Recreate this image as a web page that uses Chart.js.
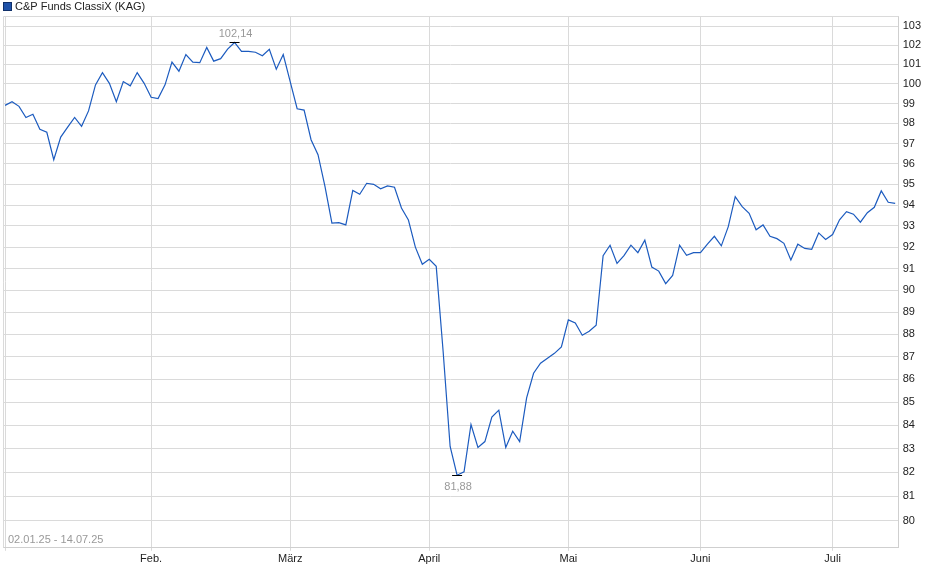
<!DOCTYPE html>
<html lang="de">
<head>
    <meta charset="UTF-8">
    <title>C&amp;P Funds ClassiX (KAG)</title>
    <script src="https://cdn.jsdelivr.net/npm/chart.js"></script>
    <style>
        body { margin: 0; background: #fff; }
        .box { width: 940px; height: 579px; position: relative; }
    </style>
</head>
<body>
<div class="box">
    <canvas id="kursChart"></canvas>
</div>

<script>
    const fondsName = 'C&P Funds ClassiX (KAG)';
    const zeitraum = '02.01.25 - 14.07.25';

    // Kurse je Handelstag (Index 0 = 02.01.25)
    const kurse = [
        98.91, 99.09, 98.86, 98.30, 98.46, 97.71, 97.56, 96.20, 97.32, 97.82,
        98.30, 97.86, 98.63, 99.95, 100.58, 100.03, 99.09, 100.12, 99.90, 100.58,
        100.03, 99.32, 99.25, 99.95, 101.12, 100.65, 101.51, 101.12, 101.09, 101.88,
        101.17, 101.30, 101.79, 102.14, 101.68, 101.68, 101.63, 101.45, 101.78, 100.75,
        101.51, 100.12, 98.74, 98.67, 97.19, 96.45, 94.90, 93.14, 93.16, 93.05,
        94.70, 94.52, 95.05, 95.00, 94.78, 94.92, 94.86, 93.86, 93.28, 92.00,
        91.20, 91.43, 91.10, 87.20, 83.09, 81.88, 82.02, 84.03, 83.05, 83.30,
        84.35, 84.65, 83.05, 83.74, 83.30, 85.18, 86.26, 86.70, 86.92, 87.14,
        87.43, 88.64, 88.50, 87.95, 88.13, 88.40, 91.60, 92.09, 91.24, 91.60,
        92.09, 91.74, 92.33, 91.07, 90.88, 90.30, 90.68, 92.09, 91.62, 91.74,
        91.74, 92.14, 92.51, 92.06, 92.97, 94.40, 93.92, 93.60, 92.82, 93.05,
        92.51, 92.40, 92.18, 91.40, 92.14, 91.94, 91.90, 92.67, 92.36, 92.59,
        93.29, 93.68, 93.56, 93.18, 93.63, 93.89, 94.68, 94.13, 94.08
    ];

    // Monatsanfang (Index des ersten Handelstags) und Beschriftung
    const monatsIndex = [0, 21, 41, 61, 81, 100, 119];
    const monatsNamen = ['', 'Feb.', 'März', 'April', 'Mai', 'Juni', 'Juli'];

    const yTicks = [80, 81, 82, 83, 84, 85, 86, 87, 88, 89, 90, 91,
        92, 93, 94, 95, 96, 97, 98, 99, 100, 101, 102, 103];

    const linienFarbe = '#1c5bbf';
    const gitterFarbe = '#dadada';

    Chart.defaults.font.family = 'Arial, "Liberation Sans", sans-serif';
    Chart.defaults.font.size = 11;
    Chart.defaults.color = '#222';

    const formatDe = v => v.toFixed(2).replace('.', ',');

    // Titel oben links, Rahmen, Zeitraum
    const rahmenPlugin = {
        id: 'rahmen',
        beforeDatasetsDraw(chart) {
            const { ctx, chartArea: a } = chart;
            ctx.save();
            ctx.strokeStyle = gitterFarbe;
            ctx.lineWidth = 1;
            ctx.beginPath();
            ctx.moveTo(a.left + 0.5, a.bottom);
            ctx.lineTo(a.left + 0.5, a.top + 0.5);
            ctx.lineTo(a.right, a.top + 0.5);
            ctx.stroke();

            ctx.fillStyle = '#999';
            ctx.font = '11px Arial, "Liberation Sans", sans-serif';
            ctx.textBaseline = 'middle';
            ctx.fillText(zeitraum, a.left + 5, a.bottom - 8);
            ctx.restore();
        },
        afterDraw(chart) {
            const { ctx } = chart;
            ctx.save();
            ctx.fillStyle = '#1f52a8';
            ctx.fillRect(4, 3, 7, 7);
            ctx.strokeStyle = '#10306a';
            ctx.lineWidth = 1;
            ctx.strokeRect(3.5, 2.5, 8, 8);
            ctx.fillStyle = '#222';
            ctx.font = '11px Arial, "Liberation Sans", sans-serif';
            ctx.textBaseline = 'middle';
            ctx.fillText(fondsName, 15, 7);
            ctx.restore();
        }
    };

    // Hoch- und Tiefpunkt markieren
    const extremPlugin = {
        id: 'extrem',
        afterDatasetsDraw(chart) {
            const { ctx, scales } = chart;
            const maxI = kurse.indexOf(Math.max(...kurse));
            const minI = kurse.indexOf(Math.min(...kurse));
            ctx.save();
            ctx.font = '11px Arial, "Liberation Sans", sans-serif';
            ctx.textAlign = 'center';
            ctx.textBaseline = 'middle';
            [[maxI, -9], [minI, 11]].forEach(([i, off]) => {
                const x = scales.x.getPixelForValue(i);
                const y = Math.round(scales.y.getPixelForValue(kurse[i])) + 0.5;
                ctx.strokeStyle = '#000';
                ctx.lineWidth = 1;
                ctx.beginPath();
                ctx.moveTo(x - 5, y);
                ctx.lineTo(x + 5, y);
                ctx.stroke();
                ctx.fillStyle = '#999';
                ctx.fillText(formatDe(kurse[i]), x + 1, y + off);
            });
            ctx.restore();
        }
    };

    new Chart(document.getElementById('kursChart'), {
        type: 'line',
        data: {
            datasets: [{
                label: fondsName,
                data: kurse.map((v, i) => ({ x: i, y: v })),
                borderColor: linienFarbe,
                borderWidth: 1.2,
                pointRadius: 0,
                tension: 0,
                fill: false
            }]
        },
        options: {
            responsive: true,
            maintainAspectRatio: false,
            animation: false,
            layout: { padding: { top: 16, left: 3, right: 15, bottom: 11 } },
            plugins: {
                legend: { display: false },
                tooltip: { enabled: false }
            },
            scales: {
                x: {
                    type: 'linear',
                    min: -0.3,
                    max: 128.5,
                    afterBuildTicks: scale => {
                        scale.ticks = monatsIndex.map(v => ({ value: v }));
                    },
                    ticks: {
                        autoSkip: false,
                        maxRotation: 0,
                        padding: 2,
                        callback: v => monatsNamen[monatsIndex.indexOf(v)] || ''
                    },
                    grid: { color: gitterFarbe, tickLength: 3 },
                    border: { color: '#cfcfcf' }
                },
                y: {
                    type: 'logarithmic',
                    position: 'right',
                    min: 78.9,
                    max: 103.53,
                    afterBuildTicks: scale => {
                        scale.ticks = yTicks.map(v => ({ value: v }));
                    },
                    ticks: {
                        padding: 4,
                        callback: v => String(v)
                    },
                    grid: { color: gitterFarbe, drawTicks: false },
                    border: { color: '#cfcfcf' }
                }
            }
        },
        plugins: [rahmenPlugin, extremPlugin]
    });
</script>

</body>
</html>
